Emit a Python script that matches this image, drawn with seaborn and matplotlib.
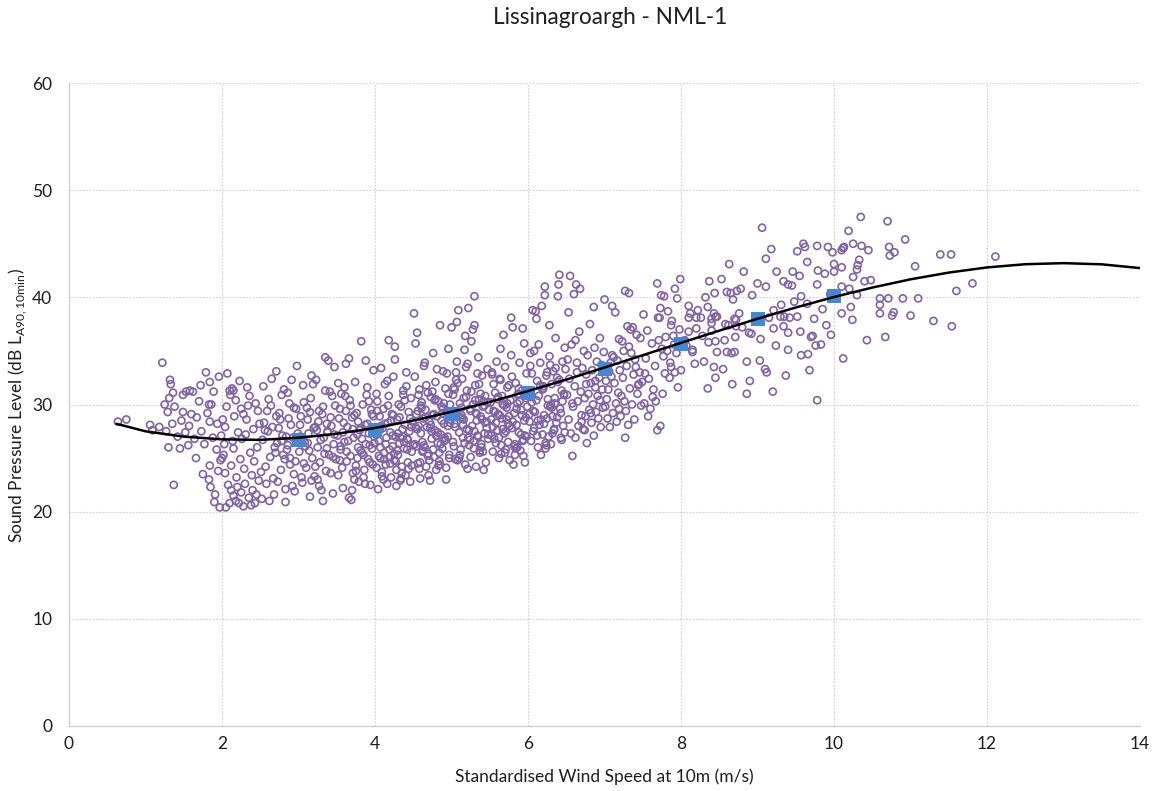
import numpy as np
import pandas as pd
import matplotlib
matplotlib.use("Agg")
import matplotlib.pyplot as plt
import seaborn as sns

# ---------------------------------------------------------------------------
# Measured 10-minute background noise levels against standardised wind speed,
# grouped by wind speed range.
# ---------------------------------------------------------------------------
ws_0 = [0.64, 0.75, 1.06, 1.09]
spl_0 = [28.4, 28.6, 28.1, 27.6]

ws_1 = [1.22, 1.32, 1.33, 1.36, 1.31, 1.49, 1.29, 1.38, 1.49, 1.35,
        1.27, 1.30, 1.45, 1.37, 1.18, 1.42, 1.25, 1.47]
spl_1 = [33.9, 32.3, 31.9, 31.1, 30.6, 30.9, 29.3, 29.8, 29.3, 28.2,
         27.5, 26.0, 25.9, 22.5, 27.9, 27.0, 30.0, 28.5]

ws_1h = [1.53, 1.58, 1.62, 1.79, 1.84, 1.96, 1.83, 1.86, 1.60, 1.84,
         1.94, 1.73, 1.77, 1.56, 1.93, 1.84, 1.83, 1.85, 1.90, 1.97,
         1.67, 1.70, 1.52, 1.88, 1.98, 1.95, 1.91, 1.75, 1.66, 1.99,
         1.72, 1.64, 1.81, 1.57, 1.89]
spl_1h = [31.2, 31.3, 31.2, 33.0, 32.1, 32.6, 30.0, 30.0, 29.1, 28.4,
          28.2, 27.5, 26.3, 26.2, 25.8, 24.3, 23.0, 22.3, 20.9, 20.4,
          28.8, 30.3, 27.4, 26.9, 24.8, 23.8, 21.6, 23.5, 25.0, 27.1,
          31.8, 26.8, 29.2, 28.0, 31.2]

ws_2 = [2.00, 2.02, 2.01, 2.04, 2.06, 2.04, 2.05, 2.14, 2.15, 2.10,
        2.13, 2.15, 2.33, 2.25, 2.28, 2.32, 2.08, 2.12, 2.15, 2.18,
        2.20, 2.22, 2.25, 2.30, 2.35, 2.38, 2.40, 2.45, 2.10, 2.28,
        2.43, 2.07, 2.18, 2.21, 2.26, 2.36, 2.41, 2.47, 2.12, 2.19,
        2.24, 2.31, 2.37, 2.44, 2.49, 2.03, 2.16, 2.29, 2.39, 2.46,
        2.23, 2.34, 2.42, 2.48, 2.11]
spl_2 = [25.0, 25.3, 28.6, 27.9, 29.8, 23.6, 20.4, 26.6, 25.9, 31.3,
         31.5, 31.3, 31.6, 29.6, 29.1, 28.6, 22.5, 22.0, 21.5, 21.0,
         22.3, 20.8, 21.8, 22.6, 21.3, 20.6, 22.0, 21.6, 20.8, 20.5,
         20.8, 32.9, 30.4, 27.4, 26.8, 30.8, 27.7, 29.4, 24.3, 23.2,
         24.9, 27.2, 25.5, 30.1, 28.2, 26.3, 28.9, 24.0, 23.4, 26.0,
         32.2, 29.9, 24.7, 22.9, 30.9]

ws_2h = [2.52, 2.55, 2.58, 2.61, 2.63, 2.66, 2.68, 2.71, 2.72, 2.75,
         2.77, 2.79, 2.81, 2.83, 2.85, 2.87, 2.89, 2.91, 2.93, 2.95,
         2.97, 2.98, 2.53, 2.57, 2.60, 2.64, 2.67, 2.70, 2.74, 2.78,
         2.82, 2.86, 2.90, 2.94, 2.99, 2.54, 2.59, 2.62, 2.69, 2.73,
         2.76, 2.80, 2.84, 2.88, 2.92, 2.96, 2.51, 2.65, 2.71, 2.78,
         2.83, 2.89, 2.94, 2.56, 2.86]
spl_2h = [21.2, 28.3, 22.6, 30.5, 25.1, 27.9, 21.6, 33.1, 26.4, 29.2,
          23.9, 27.1, 31.4, 22.1, 25.8, 28.7, 24.4, 32.3, 26.9, 21.9,
          29.6, 33.6, 26.7, 24.2, 27.5, 29.9, 23.1, 25.5, 27.8, 30.9,
          24.9, 26.2, 28.1, 23.5, 27.3, 31.7, 29.4, 21.0, 26.0, 22.8,
          28.6, 25.3, 27.0, 30.1, 22.4, 24.7, 23.7, 32.4, 28.9, 26.6,
          20.9, 25.0, 29.7, 27.6, 31.1]

ws_3 = [3.01, 3.03, 3.05, 3.06, 3.08, 3.10, 3.11, 3.13, 3.15, 3.16,
        3.18, 3.20, 3.21, 3.23, 3.25, 3.26, 3.28, 3.30, 3.31, 3.33,
        3.35, 3.36, 3.38, 3.40, 3.41, 3.43, 3.45, 3.46, 3.48, 3.49,
        3.02, 3.04, 3.07, 3.09, 3.12, 3.14, 3.17, 3.19, 3.22, 3.24,
        3.27, 3.29, 3.32, 3.34, 3.37, 3.39, 3.42, 3.44, 3.47, 3.02,
        3.07, 3.12, 3.17, 3.22, 3.27, 3.32, 3.37, 3.42, 3.47, 3.05,
        3.15, 3.25, 3.35, 3.45, 3.38]
spl_3 = [25.6, 28.9, 22.7, 31.8, 26.5, 24.1, 29.7, 27.3, 21.4, 30.6,
         25.0, 27.8, 23.3, 32.3, 26.0, 28.4, 24.6, 22.0, 29.1, 26.9,
         34.4, 23.8, 27.5, 25.3, 31.2, 28.0, 21.7, 26.3, 29.9, 24.9,
         27.0, 23.2, 30.2, 26.1, 28.6, 25.7, 22.9, 31.9, 24.2, 27.6,
         29.4, 26.7, 21.0, 25.4, 28.2, 34.1, 23.6, 30.8, 27.2, 28.1,
         24.5, 26.4, 32.7, 27.9, 22.4, 29.8, 25.9, 28.8, 33.5, 26.8,
         29.3, 23.0, 31.3, 25.1, 27.4]

ws_3h = [3.51, 3.52, 3.54, 3.55, 3.56, 3.58, 3.59, 3.60, 3.62, 3.63,
         3.64, 3.66, 3.67, 3.68, 3.70, 3.71, 3.72, 3.74, 3.75, 3.76,
         3.78, 3.79, 3.80, 3.82, 3.83, 3.84, 3.86, 3.87, 3.88, 3.90,
         3.91, 3.92, 3.94, 3.95, 3.96, 3.98, 3.99, 3.53, 3.57, 3.61,
         3.65, 3.69, 3.73, 3.77, 3.81, 3.85, 3.89, 3.93, 3.97, 3.52,
         3.58, 3.63, 3.68, 3.73, 3.78, 3.83, 3.88, 3.93, 3.98, 3.55,
         3.62, 3.70, 3.77, 3.85, 3.92, 3.99, 3.60, 3.75, 3.90, 3.66,
         3.81, 3.96, 3.54, 3.71, 3.87]
spl_3h = [27.1, 23.4, 29.6, 25.8, 31.0, 22.2, 28.3, 26.5, 33.8, 24.7,
          27.9, 21.3, 30.4, 25.2, 28.8, 23.6, 26.9, 32.1, 24.3, 29.2,
          26.0, 22.8, 27.6, 35.9, 25.5, 30.0, 23.9, 28.1, 26.3, 31.6,
          24.9, 27.3, 22.5, 29.5, 25.9, 33.2, 27.0, 28.7, 24.1, 30.8,
          26.6, 21.1, 29.0, 25.0, 27.8, 23.2, 30.9, 26.2, 24.4, 32.0,
          27.4, 25.6, 29.9, 23.0, 28.4, 26.8, 34.1, 24.6, 28.9, 26.1,
          29.4, 22.0, 27.2, 25.3, 30.3, 26.4, 31.6, 23.8, 28.2, 34.3,
          25.7, 29.1, 24.8, 27.7, 22.6]

ws_4 = [4.01, 4.02, 4.03, 4.04, 4.05, 4.06, 4.07, 4.08, 4.09, 4.10,
        4.11, 4.12, 4.13, 4.14, 4.15, 4.16, 4.17, 4.18, 4.19, 4.20,
        4.21, 4.22, 4.23, 4.24, 4.25, 4.26, 4.27, 4.28, 4.29, 4.30,
        4.31, 4.32, 4.33, 4.34, 4.35, 4.36, 4.37, 4.38, 4.39, 4.40,
        4.41, 4.42, 4.43, 4.44, 4.45, 4.46, 4.47, 4.48, 4.49, 4.50,
        4.02, 4.05, 4.08, 4.11, 4.14, 4.17, 4.20, 4.23, 4.26, 4.29,
        4.32, 4.35, 4.38, 4.41, 4.44, 4.47, 4.03, 4.07, 4.12, 4.16,
        4.21, 4.25, 4.30, 4.34, 4.39, 4.43, 4.48, 4.06, 4.13, 4.19,
        4.24, 4.28, 4.33, 4.37, 4.42, 4.46, 4.09, 4.18, 4.27, 4.36]
spl_4 = [27.2, 24.1, 30.3, 22.1, 26.6, 28.9, 25.0, 33.4, 23.7, 27.8,
         29.6, 25.5, 31.9, 24.4, 26.9, 22.6, 28.3, 30.8, 25.8, 27.4,
         23.2, 29.1, 26.1, 32.6, 24.8, 35.4, 27.0, 23.9, 28.6, 25.3,
         30.0, 26.4, 22.9, 29.8, 24.2, 27.7, 31.3, 25.9, 28.1, 23.4,
         33.0, 26.8, 24.6, 29.3, 27.5, 22.8, 30.6, 25.6, 28.4, 26.2,
         31.0, 25.2, 28.0, 23.0, 26.3, 29.9, 24.5, 27.1, 34.2, 25.7,
         28.8, 23.6, 26.5, 31.7, 24.0, 27.9, 29.4, 26.0, 24.9, 32.2,
         28.5, 25.4, 27.3, 23.1, 30.4, 26.7, 24.3, 27.6, 28.2, 25.1,
         29.0, 22.4, 26.9, 30.9, 25.8, 28.7, 23.3, 36.0, 24.7, 27.0]

ws_4h = [4.51, 4.52, 4.53, 4.54, 4.55, 4.56, 4.57, 4.58, 4.59, 4.60,
         4.61, 4.62, 4.63, 4.64, 4.65, 4.66, 4.67, 4.68, 4.69, 4.70,
         4.71, 4.72, 4.73, 4.74, 4.75, 4.76, 4.77, 4.78, 4.79, 4.80,
         4.81, 4.82, 4.83, 4.84, 4.85, 4.86, 4.87, 4.88, 4.89, 4.90,
         4.91, 4.92, 4.93, 4.94, 4.95, 4.96, 4.97, 4.98, 4.99, 4.52,
         4.55, 4.58, 4.61, 4.64, 4.67, 4.70, 4.73, 4.76, 4.79, 4.82,
         4.85, 4.88, 4.91, 4.94, 4.97, 4.53, 4.57, 4.62, 4.66, 4.71,
         4.75, 4.80, 4.84, 4.89, 4.93, 4.98, 4.54, 4.60, 4.65, 4.69,
         4.74, 4.78, 4.83, 4.87, 4.92, 4.96, 4.56, 4.63, 4.72, 4.81,
         4.86, 4.90, 4.95, 4.59, 4.77]
spl_4h = [38.5, 26.3, 35.7, 29.1, 36.7, 24.5, 28.0, 31.4, 23.1, 27.3,
          30.2, 25.6, 28.7, 33.6, 26.0, 29.5, 24.2, 27.9, 31.1, 25.4,
          28.4, 22.9, 30.7, 26.8, 29.0, 34.8, 25.1, 27.6, 32.1, 23.9,
          28.9, 26.4, 30.3, 24.7, 37.4, 27.2, 29.8, 25.9, 33.1, 28.2,
          26.6, 31.5, 24.1, 29.3, 27.0, 35.2, 25.3, 30.0, 28.6, 32.6,
          27.7, 24.0, 29.7, 26.2, 31.8, 23.4, 28.1, 25.8, 30.5, 27.4,
          24.4, 29.2, 26.9, 32.9, 25.0, 27.9, 30.9, 26.5, 28.8, 24.8,
          31.2, 27.1, 25.5, 29.6, 23.0, 28.3, 26.1, 29.9, 33.9, 25.2,
          27.5, 30.4, 24.3, 28.5, 26.7, 31.0, 29.4, 25.7, 27.8, 33.3,
          26.3, 30.1, 28.0, 24.6, 29.1]

ws_5 = [5.00, 5.07, 5.09, 5.22, 5.30, 5.30, 5.28, 5.08, 5.42, 5.01,
        5.02, 5.03, 5.04, 5.05, 5.06, 5.10, 5.11, 5.12, 5.13, 5.14,
        5.15, 5.16, 5.17, 5.18, 5.19, 5.20, 5.21, 5.23, 5.24, 5.25,
        5.26, 5.27, 5.29, 5.31, 5.32, 5.33, 5.34, 5.35, 5.36, 5.37,
        5.38, 5.39, 5.40, 5.41, 5.43, 5.44, 5.45, 5.46, 5.47, 5.48,
        5.49, 5.02, 5.05, 5.08, 5.11, 5.14, 5.17, 5.20, 5.23, 5.26,
        5.29, 5.32, 5.35, 5.38, 5.41, 5.44, 5.47, 5.03, 5.07, 5.12,
        5.16, 5.21, 5.25, 5.30, 5.34, 5.39, 5.43, 5.48, 5.04, 5.10,
        5.15, 5.19, 5.24, 5.28, 5.33, 5.37, 5.42, 5.46, 5.06, 5.13,
        5.22, 5.31, 5.40, 5.18, 5.36]
spl_5 = [37.2, 37.7, 38.8, 39.0, 40.1, 37.4, 37.0, 24.8, 23.9, 29.3,
         26.5, 31.6, 28.2, 24.9, 33.0, 27.4, 30.1, 25.8, 29.0, 32.4,
         26.9, 28.6, 35.1, 24.4, 30.7, 27.7, 33.8, 26.2, 29.6, 25.1,
         31.2, 28.0, 26.6, 30.4, 24.2, 29.1, 27.1, 34.4, 31.9, 25.5,
         28.9, 26.0, 32.7, 29.8, 27.3, 30.8, 24.6, 28.4, 33.3, 26.8,
         29.5, 30.9, 27.9, 32.0, 25.3, 28.7, 26.4, 31.3, 27.6, 35.9,
         25.9, 29.2, 27.0, 31.0, 25.6, 28.3, 30.2, 26.1, 34.0, 28.8,
         30.6, 24.0, 29.4, 27.5, 32.9, 26.3, 29.9, 27.2, 31.4, 25.0,
         28.1, 33.5, 26.7, 30.0, 28.5, 25.7, 30.3, 27.8, 32.3, 29.7,
         26.9, 31.8, 28.6, 36.4, 30.5]

ws_5h = [5.68, 5.78, 5.80, 5.93, 5.81, 5.51, 5.52, 5.53, 5.54, 5.55,
         5.56, 5.57, 5.58, 5.59, 5.60, 5.61, 5.62, 5.63, 5.64, 5.65,
         5.66, 5.67, 5.69, 5.70, 5.71, 5.72, 5.73, 5.74, 5.75, 5.76,
         5.77, 5.79, 5.82, 5.83, 5.84, 5.85, 5.86, 5.87, 5.88, 5.89,
         5.90, 5.91, 5.92, 5.94, 5.95, 5.96, 5.97, 5.98, 5.99, 5.52,
         5.55, 5.58, 5.61, 5.64, 5.67, 5.70, 5.73, 5.76, 5.79, 5.82,
         5.85, 5.88, 5.91, 5.94, 5.97, 5.53, 5.57, 5.62, 5.66, 5.71,
         5.75, 5.80, 5.84, 5.89, 5.93, 5.98, 5.54, 5.60, 5.65, 5.69,
         5.74, 5.78, 5.83, 5.87, 5.92, 5.96, 5.63, 5.72, 5.86, 5.95]
spl_5h = [36.5, 38.1, 37.2, 37.1, 24.4, 30.2, 27.1, 32.8, 25.6, 29.4,
          26.8, 31.1, 28.3, 34.0, 27.6, 30.7, 25.0, 29.0, 32.3, 26.2,
          28.7, 30.0, 27.3, 33.5, 25.8, 29.7, 31.6, 26.5, 28.9, 24.8,
          30.4, 27.8, 29.2, 25.3, 32.0, 28.1, 26.0, 30.9, 27.4, 33.9,
          25.7, 29.5, 31.3, 26.7, 28.5, 24.6, 30.6, 27.0, 29.8, 28.6,
          31.9, 26.4, 29.1, 35.2, 27.7, 25.5, 30.1, 28.0, 32.6, 26.1,
          29.6, 31.5, 27.2, 25.2, 28.8, 33.0, 29.3, 26.9, 30.8, 27.5,
          31.8, 28.4, 25.9, 30.3, 26.6, 32.9, 27.9, 30.5, 25.4, 29.9,
          28.2, 34.6, 26.3, 31.0, 29.0, 27.1, 32.4, 28.6, 30.1, 35.7]

ws_6 = [6.06, 6.10, 6.11, 6.18, 6.22, 6.22, 6.40, 6.41, 6.39, 6.17,
        6.01, 6.02, 6.03, 6.04, 6.05, 6.07, 6.08, 6.09, 6.12, 6.13,
        6.14, 6.15, 6.16, 6.19, 6.20, 6.21, 6.23, 6.24, 6.25, 6.26,
        6.27, 6.28, 6.29, 6.30, 6.31, 6.32, 6.33, 6.34, 6.35, 6.36,
        6.37, 6.38, 6.42, 6.43, 6.44, 6.45, 6.46, 6.47, 6.48, 6.49,
        6.02, 6.05, 6.08, 6.11, 6.14, 6.17, 6.20, 6.23, 6.26, 6.29,
        6.32, 6.35, 6.38, 6.41, 6.44, 6.47, 6.03, 6.07, 6.12, 6.16,
        6.21, 6.25, 6.30, 6.34, 6.39, 6.43, 6.48, 6.04, 6.13, 6.19,
        6.24, 6.31, 6.36, 6.45, 6.28]
spl_6 = [38.8, 38.7, 38.0, 39.2, 41.0, 40.2, 41.2, 42.1, 40.1, 25.3,
         31.1, 28.4, 33.6, 26.6, 30.2, 27.5, 35.0, 29.3, 32.2, 26.0,
         30.8, 28.1, 33.9, 27.2, 31.5, 29.0, 25.9, 32.7, 28.7, 30.5,
         27.0, 34.5, 29.8, 26.3, 31.9, 28.9, 33.1, 27.7, 30.1, 36.2,
         28.3, 32.5, 29.6, 26.9, 31.3, 34.0, 28.0, 30.9, 27.4, 33.3,
         29.1, 32.9, 27.8, 30.4, 35.6, 28.6, 31.7, 26.4, 29.9, 33.7,
         27.3, 30.6, 28.8, 32.3, 26.7, 31.0, 34.8, 29.4, 27.1, 31.8,
         28.2, 33.0, 30.0, 27.6, 32.1, 29.2, 35.3, 30.7, 28.5, 31.4,
         26.2, 29.7, 33.4, 30.3, 37.4]

ws_6h = [6.55, 6.63, 6.60, 6.58, 6.68, 6.51, 6.52, 6.53, 6.54, 6.56,
         6.57, 6.59, 6.61, 6.62, 6.64, 6.65, 6.66, 6.67, 6.69, 6.70,
         6.71, 6.72, 6.73, 6.74, 6.75, 6.76, 6.77, 6.78, 6.79, 6.80,
         6.81, 6.82, 6.83, 6.84, 6.85, 6.86, 6.87, 6.88, 6.89, 6.90,
         6.91, 6.92, 6.93, 6.94, 6.95, 6.96, 6.97, 6.98, 6.99, 6.53,
         6.58, 6.64, 6.70, 6.76, 6.82, 6.88, 6.94, 6.62, 6.74, 6.86]
spl_6h = [42.0, 41.2, 40.3, 25.2, 40.8, 30.9, 34.2, 28.6, 32.4, 27.3,
          35.6, 29.8, 31.7, 26.9, 33.9, 30.3, 28.0, 36.8, 31.2, 29.0,
          33.4, 27.7, 35.0, 30.6, 28.9, 32.8, 26.4, 34.6, 31.0, 29.5,
          37.5, 32.0, 28.3, 33.2, 30.0, 27.1, 35.3, 31.6, 29.3, 34.0,
          30.8, 28.7, 32.5, 36.2, 27.9, 33.7, 31.4, 29.7, 34.9, 38.6,
          30.1, 33.0, 28.4, 31.9, 29.2, 32.2, 30.4, 36.0, 27.6, 39.1]

ws_7 = [7.27, 7.27, 7.32, 7.00, 7.10, 7.14, 7.30, 7.34, 7.37, 7.51,
        7.47, 7.25, 7.32, 7.41, 7.44, 7.43, 7.10, 7.12, 7.06, 7.09,
        7.01, 7.02, 7.03, 7.04, 7.05, 7.07, 7.08, 7.11, 7.13, 7.15,
        7.16, 7.17, 7.18, 7.19, 7.20, 7.21, 7.22, 7.23, 7.24, 7.26,
        7.28, 7.29, 7.31, 7.33, 7.35, 7.36, 7.38, 7.39, 7.42, 7.46,
        7.48, 7.49, 7.40, 7.45, 7.19]
spl_7 = [26.9, 40.6, 40.4, 39.8, 39.2, 38.6, 37.3, 37.0, 37.2, 38.4,
         36.2, 35.0, 35.4, 33.5, 31.8, 31.0, 34.6, 34.4, 33.1, 32.6,
         29.8, 32.2, 30.5, 28.7, 31.4, 27.9, 33.9, 29.2, 32.0, 30.1,
         28.4, 34.1, 31.1, 29.6, 33.2, 28.9, 30.8, 35.9, 32.5, 30.3,
         29.4, 33.6, 28.1, 31.5, 34.8, 30.0, 32.8, 28.6, 36.5, 33.0,
         29.9, 32.1, 34.2, 31.9, 36.1]

ws_7h = [7.69, 7.73, 7.52, 7.96, 7.99, 7.95, 7.92, 7.69, 7.74, 7.78,
         7.83, 7.87, 7.88, 7.73, 7.70, 7.72, 7.56, 7.80, 7.90, 7.91,
         7.86, 7.87, 7.77, 7.75, 7.71, 7.79, 7.85, 7.92, 7.76, 7.54,
         7.58, 7.62, 7.64, 7.60, 7.66, 7.94, 7.98, 7.57, 7.63, 7.82,
         7.67, 7.53]
spl_7h = [27.6, 28.0, 30.1, 31.6, 41.7, 39.9, 40.8, 41.3, 40.2, 40.1,
          38.7, 37.4, 37.8, 39.0, 38.1, 38.1, 36.9, 36.3, 36.4, 35.6,
          33.9, 33.5, 34.5, 35.2, 36.0, 32.9, 32.5, 33.0, 31.0, 34.3,
          32.4, 35.7, 31.4, 29.6, 33.6, 34.8, 37.0, 28.9, 30.7, 35.0,
          30.3, 32.9]

ws_8 = [8.35, 8.37, 8.00, 8.43, 8.44, 8.45, 8.12, 8.10, 8.20, 8.10,
        8.20, 8.15, 8.15, 8.36, 8.40, 8.43, 8.47, 8.45, 8.40, 8.35,
        8.40, 8.45, 8.47, 8.26, 8.10, 8.22, 8.05, 8.30, 8.28, 8.18,
        8.07, 8.32]
spl_8 = [31.5, 41.5, 33.2, 33.5, 40.4, 32.5, 38.5, 38.1, 38.1, 36.8,
         37.1, 35.1, 34.9, 35.8, 36.9, 38.5, 38.2, 38.2, 38.0, 39.1,
         37.6, 35.9, 34.9, 38.1, 39.2, 38.8, 36.0, 34.0, 36.4, 33.8,
         35.5, 40.0]

ws_8h = [8.67, 8.86, 8.90, 8.86, 8.60, 8.65, 8.73, 8.78, 8.93, 8.68,
         8.53, 8.70, 8.72, 8.58, 8.62, 8.71, 8.76, 8.72, 8.80, 8.60,
         8.66, 8.70, 8.57, 8.89, 8.92, 8.63, 8.82, 8.55]
spl_8h = [31.9, 31.0, 32.2, 34.0, 40.5, 40.4, 40.6, 40.8, 40.2, 39.8,
          41.7, 38.0, 37.9, 37.5, 37.4, 36.3, 38.5, 37.3, 37.2, 34.9,
          34.8, 34.9, 36.0, 36.7, 36.6, 43.1, 42.4, 33.3]

ws_9 = [9.20, 9.37, 9.03, 9.10, 9.12, 9.11, 9.06, 9.25, 9.46, 9.00,
        9.11, 9.15, 9.21, 9.31, 9.30, 9.35, 9.42, 9.21, 9.34, 9.40,
        9.24, 9.40, 9.04, 9.34, 9.45, 9.40, 9.18, 9.48]
spl_9 = [31.2, 32.7, 34.1, 33.3, 33.0, 43.6, 46.5, 42.4, 42.4, 41.3,
         41.0, 38.1, 38.8, 39.3, 38.2, 38.2, 38.1, 37.1, 37.3, 36.7,
         35.5, 35.1, 36.1, 41.5, 41.1, 41.2, 44.5, 39.6]

ws_9h = [9.52, 9.60, 9.62, 9.65, 9.78, 9.79, 9.78, 9.92, 9.98, 9.88,
         9.83, 9.56, 9.57, 9.66, 9.70, 9.72, 9.76, 9.52, 9.65, 9.78,
         9.57, 9.85, 9.95, 9.90, 9.68, 9.74, 9.55, 9.96]
spl_9h = [44.3, 45.0, 44.7, 43.3, 44.8, 42.5, 30.4, 44.7, 44.2, 42.2,
          35.6, 36.8, 34.6, 34.7, 36.3, 36.4, 35.5, 38.2, 39.4, 41.2,
          40.1, 38.9, 40.3, 37.4, 33.2, 38.0, 42.0, 36.5]

ws_10 = [10.35, 10.19, 10.13, 10.25, 10.36, 10.45, 10.10, 10.12, 10.00, 10.30,
         10.31, 10.33, 10.10, 10.00, 10.25, 10.40, 10.48, 10.10, 10.20, 10.22,
         10.10, 10.24, 10.43, 10.12, 10.30]
spl_10 = [47.5, 46.2, 44.7, 45.0, 44.8, 44.4, 44.4, 44.6, 43.1, 42.6,
          43.0, 43.5, 42.8, 42.4, 41.9, 41.5, 41.6, 41.0, 40.8, 39.1,
          38.5, 37.9, 36.0, 34.3, 40.2]

ws_11 = [10.70, 10.72, 10.73, 10.79, 10.93, 11.39, 11.53, 12.11, 11.06, 11.81,
         11.60, 10.60, 10.71, 10.90, 10.60, 11.10, 10.60, 10.78, 10.76, 11.00,
         11.54, 10.67, 11.30]
spl_11 = [47.1, 44.7, 43.9, 44.2, 45.4, 44.0, 44.0, 43.8, 42.9, 41.3,
          40.6, 39.9, 39.9, 39.9, 39.3, 39.9, 38.5, 38.6, 38.3, 38.3,
          37.3, 36.3, 37.8]

# Mean level in each 1 m/s wind speed bin
bin_centres = [3, 4, 5, 6, 7, 8, 9, 10]
bin_means = [26.7, 27.6, 29.1, 31.1, 33.3, 35.6, 38.0, 40.1]

# Best-fit trend line, sampled every 0.5 m/s
trend_ws = [0.62, 1.0, 1.5, 2.0, 2.5, 3.0, 3.5, 4.0, 4.5, 5.0, 5.5, 6.0, 6.5,
            7.0, 7.5, 8.0, 8.5, 9.0, 9.5, 10.0, 10.5, 11.0, 11.5, 12.0, 12.5,
            13.0, 13.5, 14.0]
trend_spl = [28.2, 27.5, 27.0, 26.75, 26.7, 26.9, 27.27, 27.81, 28.5, 29.32,
             30.24, 31.25, 32.32, 33.45, 34.6, 35.75, 36.89, 38.0, 39.05,
             40.03, 40.91, 41.68, 42.31, 42.79, 43.09, 43.19, 43.08, 42.73]

title = "Lissinagroargh - NML-1"
x_label = "Standardised Wind Speed at 10m (m/s)"
y_label = r"Sound Pressure Level (dB L$_{\mathregular{A90,10min}}$)"
x_ticks = [0, 2, 4, 6, 8, 10, 12, 14]
y_ticks = [0, 10, 20, 30, 40, 50, 60]

# ---------------------------------------------------------------------------
ws_groups = [ws_0, ws_1, ws_1h, ws_2, ws_2h, ws_3, ws_3h, ws_4, ws_4h, ws_5,
             ws_5h, ws_6, ws_6h, ws_7, ws_7h, ws_8, ws_8h, ws_9, ws_9h,
             ws_10, ws_11]
spl_groups = [spl_0, spl_1, spl_1h, spl_2, spl_2h, spl_3, spl_3h, spl_4,
              spl_4h, spl_5, spl_5h, spl_6, spl_6h, spl_7, spl_7h, spl_8,
              spl_8h, spl_9, spl_9h, spl_10, spl_11]
rows = []
for w, s in zip(ws_groups, spl_groups):
    n = min(len(w), len(s))
    rows.append(pd.DataFrame({"ws": w[:n], "spl": s[:n]}))
obs = pd.concat(rows, ignore_index=True)
bins = pd.DataFrame({"ws": bin_centres, "spl": bin_means})
trend = pd.DataFrame({"ws": trend_ws, "spl": trend_spl})

sns.set_theme(style="white")
plt.rcParams["font.family"] = ["Lato", "DejaVu Sans"]
plt.rcParams["mathtext.fontset"] = "custom"
plt.rcParams["mathtext.rm"] = "Lato"

W, H = 1157, 791
text_color = "#1E1E1E"
fig = plt.figure(figsize=(W / 100, H / 100), dpi=100)
fig.patch.set_facecolor("white")
ax = fig.add_axes([69 / W, 1 - 726 / H, (1140 - 69) / W, (726 - 83) / H])

purple = "#8064A2"
sns.scatterplot(data=obs, x="ws", y="spl", ax=ax, color=purple, s=26,
                linewidth=1.2, zorder=3, legend=False)
ax.collections[-1].set_facecolor("none")
ax.collections[-1].set_edgecolor(purple)

sns.scatterplot(data=bins, x="ws", y="spl", ax=ax, marker="s", s=95,
                color="#4A86CF", linewidth=0, zorder=4, legend=False)
sns.lineplot(data=trend, x="ws", y="spl", ax=ax, color="black",
             linewidth=1.8, zorder=5, sort=False, estimator=None)

ax.set_xlim(0, 14)
ax.set_ylim(0, 60)
ax.set_xticks(x_ticks)
ax.set_yticks(y_ticks)
ax.grid(True, color="#CFCFCF", linestyle=(0, (1.5, 1.5)), linewidth=0.8)
ax.set_axisbelow(True)
for side in ["top", "right"]:
    ax.spines[side].set_visible(False)
for side in ["left", "bottom"]:
    ax.spines[side].set_color("#D0D0D0")
    ax.spines[side].set_linewidth(1.0)

ax.tick_params(axis="both", length=0, labelsize=12.5, colors=text_color)
ax.tick_params(axis="x", pad=7)
ax.tick_params(axis="y", pad=12)
ax.set_xlabel("")
ax.set_ylabel("")

fig.text(604 / W, 1 - 777 / H, x_label, ha="center", va="center",
         fontsize=12.5, color=text_color)
fig.text(18 / W, 1 - 405 / H, y_label, ha="center", va="center",
         rotation=90, fontsize=12.5, color=text_color)
fig.text(610 / W, 1 - 18 / H, title, ha="center", va="center",
         fontsize=16.3, color=text_color)

fig.savefig("out.png", dpi=100, facecolor="white")
